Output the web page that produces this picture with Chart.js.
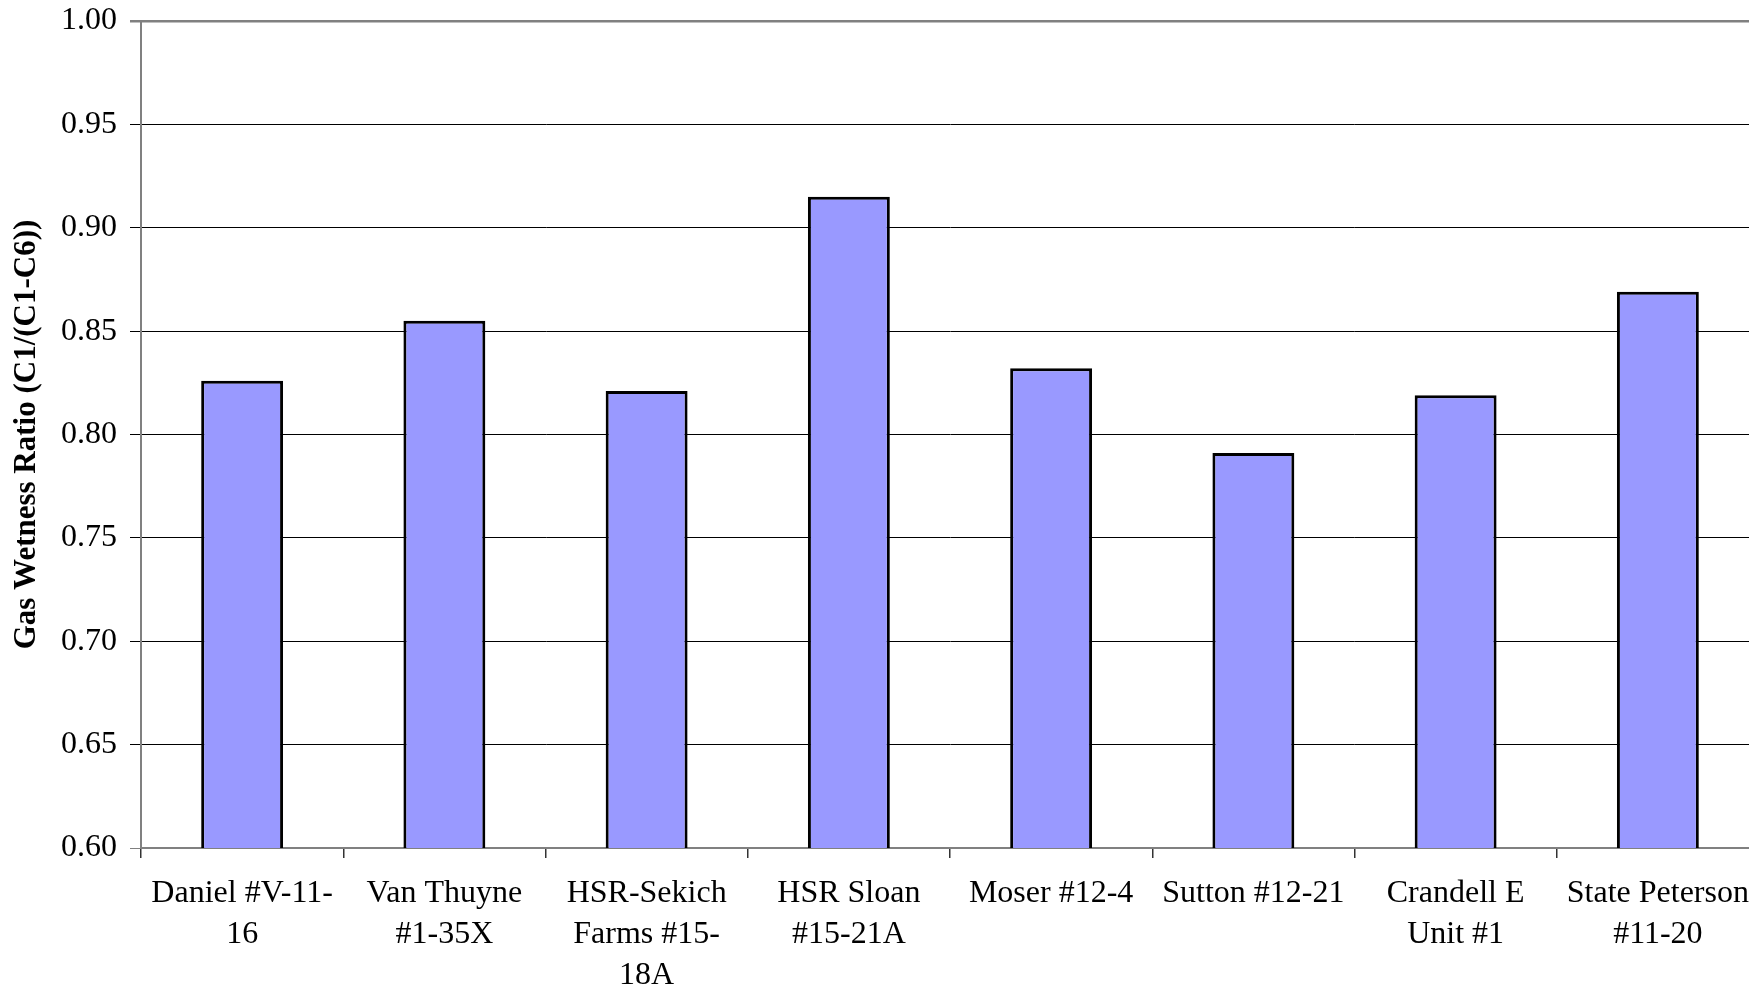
<!DOCTYPE html>
<html>
<head>
<meta charset="utf-8">
<title>Gas Wetness Ratio by Well</title>
<script src="https://cdn.jsdelivr.net/npm/chart.js@4.4.1/dist/chart.umd.min.js"></script>
<style>
  html, body { margin: 0; padding: 0; background: #ffffff; overflow: hidden; }
  #wrap { width: 1790px; height: 990px; }
</style>
</head>
<body>
<div id="wrap"><canvas id="chart" width="1790" height="990"></canvas></div>
<script>
// Well names (multi-line labels as they wrap under each bar)
const wells = [
  ["Daniel #V-11-", "16"],
  ["Van Thuyne", "#1-35X"],
  ["HSR-Sekich", "Farms #15-", "18A"],
  ["HSR Sloan", "#15-21A"],
  ["Moser #12-4"],
  ["Sutton #12-21"],
  ["Crandell E", "Unit #1"],
  ["State Peterson", "#11-20"]
];

// Gas wetness ratio C1/(C1-C6) for each well
const wetnessRatio = [0.826, 0.855, 0.821, 0.915, 0.832, 0.791, 0.819, 0.869];

// Value axis range and step
const yMin = 0.60;
const yMax = 1.00;
const yStep = 0.05;

const serif = "'Liberation Serif', 'Times New Roman', Times, serif";

new Chart(document.getElementById('chart'), {
  type: 'bar',
  data: {
    labels: wells,
    datasets: [{
      data: wetnessRatio,
      backgroundColor: '#9999FF',
      borderColor: '#000000',
      borderWidth: 3,
      borderSkipped: false,
      barPercentage: 0.405,
      categoryPercentage: 1.0
    }]
  },
  options: {
    responsive: false,
    animation: false,
    devicePixelRatio: 1,
    layout: { padding: { top: 21, right: 31, left: 0, bottom: 0 } },
    plugins: {
      legend: { display: false },
      tooltip: { enabled: false },
      title: { display: false }
    },
    scales: {
      x: {
        offset: true,
        grid: {
          offset: true,
          drawOnChartArea: false,
          drawTicks: true,
          tickLength: 10,
          color: '#333333',
          lineWidth: 1.5
        },
        border: { display: true, color: '#808080', width: 2 },
        ticks: {
          autoSkip: false,
          maxRotation: 0,
          minRotation: 0,
          padding: 15,
          color: '#000000',
          font: { family: serif, size: 32, lineHeight: 1.28 }
        },
        afterFit: (scale) => {
          scale.height = 142;
          scale.paddingLeft = 0;
          scale.paddingRight = 0;
        }
      },
      y: {
        min: yMin,
        max: yMax,
        grid: {
          drawTicks: true,
          tickLength: 11,
          color: (ctx) => {
            const v = ctx.tick ? ctx.tick.value : null;
            if (v !== null && (Math.abs(v - yMax) < 1e-6 || Math.abs(v - yMin) < 1e-6)) return '#808080';
            return '#000000';
          },
          lineWidth: (ctx) => {
            const v = ctx.tick ? ctx.tick.value : null;
            if (v !== null && Math.abs(v - yMax) < 1e-6) return 2.5;
            return 1;
          }
        },
        border: { display: true, color: '#808080', width: 2 },
        ticks: {
          stepSize: yStep,
          padding: 13,
          color: '#000000',
          font: { family: serif, size: 32 },
          callback: (value) => Number(value).toFixed(2)
        },
        title: {
          display: true,
          text: 'Gas Wetness Ratio (C1/(C1-C6))',
          color: '#000000',
          font: { family: serif, size: 31, weight: 'bold' },
          padding: { top: 8, bottom: 0 }
        },
        afterFit: (scale) => {
          scale.width = 141;
          scale.paddingTop = 0;
          scale.paddingBottom = 0;
        }
      }
    }
  }
});
</script>
</body>
</html>
